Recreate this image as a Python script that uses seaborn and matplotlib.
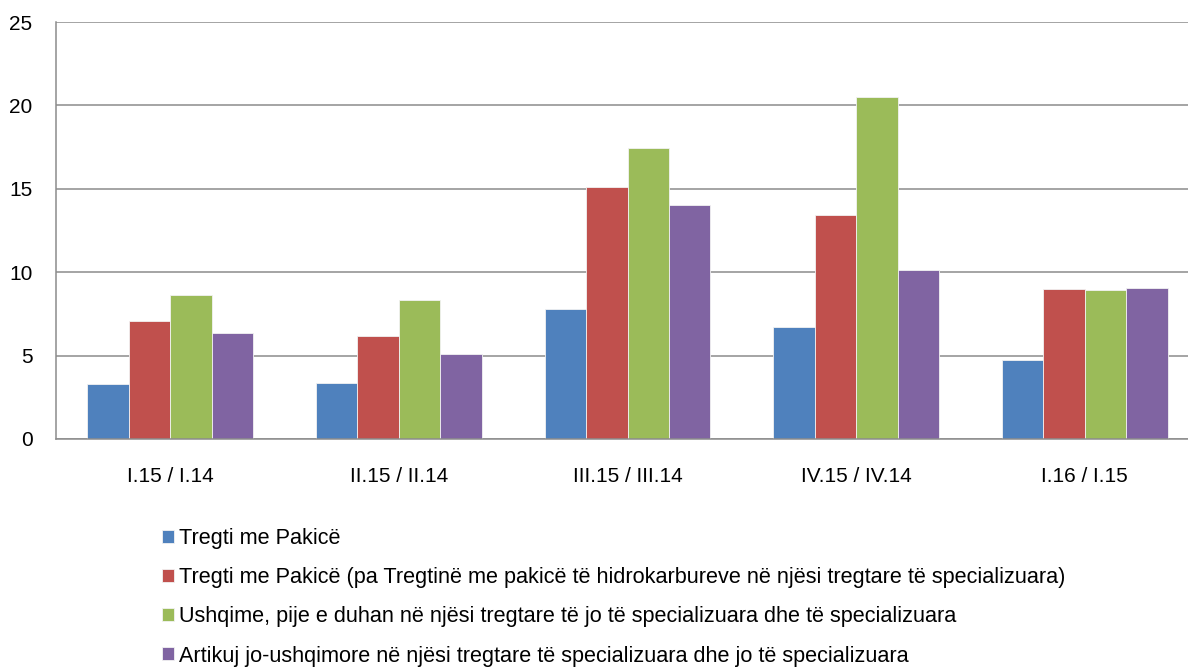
import pandas as pd
import matplotlib
matplotlib.use("Agg")
import matplotlib.pyplot as plt
import seaborn as sns

# values (annual change, %)
periods = ["I.15 / I.14", "II.15 / II.14", "III.15 / III.14", "IV.15 / IV.14", "I.16 / I.15"]
series_names = [
    "Tregti me Pakicë",
    "Tregti me Pakicë (pa Tregtinë me pakicë të hidrokarbureve në njësi tregtare të specializuara)",
    "Ushqime, pije e duhan në njësi tregtare të jo të specializuara dhe të specializuara",
    "Artikuj jo-ushqimore në njësi tregtare të specializuara dhe jo të specializuara",
]
retail = [3.29, 3.37, 7.80, 6.74, 4.71]
retail_ex_fuel = [7.08, 6.18, 15.11, 13.44, 8.99]
food = [8.63, 8.31, 17.43, 20.48, 8.95]
non_food = [6.36, 5.10, 14.02, 10.15, 9.07]
colors = ["#4F81BD", "#C0504D", "#9BBB59", "#8064A2"]

rows = []
for name, vals in zip(series_names, [retail, retail_ex_fuel, food, non_food]):
    for p, v in zip(periods, vals):
        rows.append({"period": p, "value": v, "series": name})
df = pd.DataFrame(rows)

sns.set_style("white")
plt.rcParams["font.family"] = ["Liberation Sans", "DejaVu Sans"]
plt.rcParams["text.color"] = "black"

fig = plt.figure(figsize=(11.88, 6.67), dpi=100)
ax = fig.add_axes([56 / 1188, 1 - 439 / 667, 1143 / 1188, 417 / 667])

sns.barplot(data=df, x="period", y="value", hue="series", hue_order=series_names,
            order=periods, palette=colors, saturation=1, width=0.726,
            edgecolor="#f2f2f2", linewidth=0.6, ax=ax)

ax.set_ylim(0, 25)
ax.set_yticks([0, 5, 10, 15, 20, 25])
ax.set_xlim(-0.5, 4.5)
ax.set_xlabel("")
ax.set_ylabel("")
ax.yaxis.grid(True, color="#8c8c8c", linewidth=1.1)
ax.set_axisbelow(True)
for s in ["top", "right"]:
    ax.spines[s].set_visible(False)
for s in ["left", "bottom"]:
    ax.spines[s].set_color("#8c8c8c")
    ax.spines[s].set_linewidth(1.1)
ax.tick_params(axis="y", length=0, pad=17, labelsize=15, labelcolor="black")
ax.tick_params(axis="x", length=0, pad=20, labelsize=15, labelcolor="black")

handles, labels = ax.get_legend_handles_labels()
ax.get_legend().remove()
fig.legend(handles, labels, loc="upper left", bbox_to_anchor=(162 / 1188, 1 - 528 / 667),
           frameon=False, fontsize=15.6, handlelength=0.55, handleheight=0.55,
           handletextpad=0.25, labelspacing=0.84, borderpad=0, borderaxespad=0,
           labelcolor="black")

fig.savefig("out.png", dpi=100)
